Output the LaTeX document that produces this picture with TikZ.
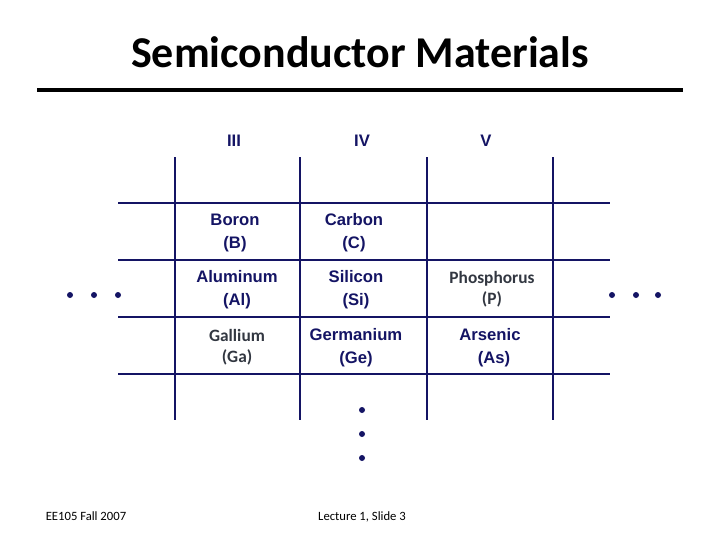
\documentclass[tikz,border=0pt]{standalone}
\usepackage{fontspec}
\setmainfont{Carlito}
\newfontfamily\arial{Liberation Sans}
\definecolor{navy}{RGB}{20,20,100}
\definecolor{dgray}{RGB}{50,55,65}
\begin{document}
\begin{tikzpicture}[x=0.75pt,y=-0.75pt,
  grid/.style={draw=navy,line width=1pt},
  el/.style={text=navy,font=\arial\bfseries\fontsize{12.5}{17}\selectfont,align=center},
  elc/.style={text=dgray,font=\bfseries\fontsize{13}{16}\selectfont,align=center},
  dot/.style={circle,fill=navy,inner sep=0pt,minimum size=4.5pt},
  foot/.style={font=\fontsize{9.5}{11}\selectfont,anchor=base}]
\useasboundingbox (0,0) rectangle (720,540);
\node (title) at (360,52) {\bfseries\fontsize{33}{37}\selectfont Semiconductor Materials};
\draw[line width=2.5pt] (37,90) -- (683,90);
\foreach \x in {175,300,427,553} \draw[grid] (\x,157) -- (\x,420);
\foreach \y in {203,260,317,374} \draw[grid] (118,\y) -- (610,\y);
\node[el] (h3) at (234,141) {III};
\node[el] (h4) at (362,141) {IV};
\node[el] (h5) at (486,141) {V};
\node[el] (b) at (235,233) {Boron\\(B)};
\node[el] (c) at (354,233) {Carbon\\(C)};
\node[el] (al) at (237,290) {Aluminum\\(Al)};
\node[el] (si) at (356,290) {Silicon\\(Si)};
\node[elc] (p) at (492,289) {Phosphorus\\(P)};
\node[elc] (ga) at (237,347) {Gallium\\(Ga)};
\node[el] (ge) at (356,348) {Germanium\\(Ge)};
\node[el] (as) at (490,348) {Arsenic\\\hspace*{6pt}(As)};
\foreach \x/\n in {70/l1,94/l2,118/l3,612/r1,636/r2,658/r3} \node[dot] (\n) at (\x,295) {};
\foreach \y/\n in {410/v1,434/v2,458/v3} \node[dot] (\n) at (362,\y) {};
\node[foot] (f1) at (86,520) {EE105 Fall 2007};
\node[foot] (f2) at (362,520) {Lecture 1, Slide 3};
\end{tikzpicture}
\end{document}
